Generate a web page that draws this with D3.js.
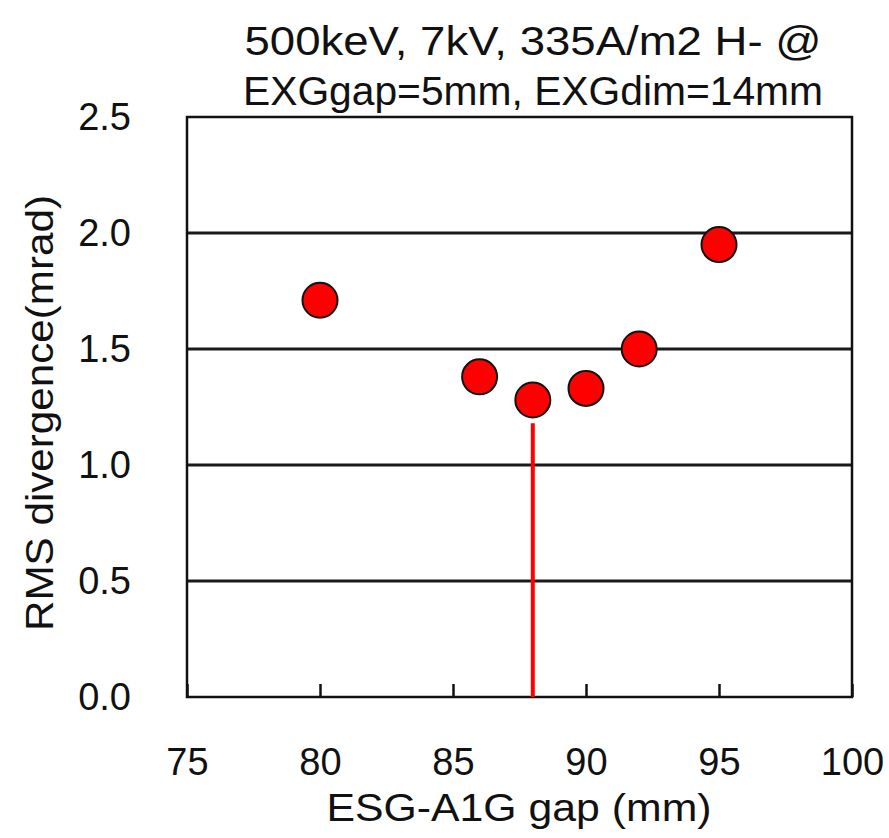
<!DOCTYPE html>
<html><head><meta charset="utf-8">
<script src="https://cdn.jsdelivr.net/npm/d3@7"></script>
<style>body{margin:0;background:#fff}svg{display:block}text{font-family:"Liberation Sans",Arial,sans-serif;fill:#111}</style>
</head><body>
<script>
const titleLines = ["500keV, 7kV, 335A/m2 H- @", "EXGgap=5mm, EXGdim=14mm"];
const xLabel = "ESG-A1G gap (mm)";
const yLabel = "RMS divergence(mrad)";
const gapValues = [80, 86, 88, 90, 92, 95];
const divergenceValues = [1.71, 1.38, 1.28, 1.33, 1.50, 1.95];
const xTicks = [75, 80, 85, 90, 95, 100];
const yTicks = [0.0, 0.5, 1.0, 1.5, 2.0, 2.5];
const markerLine = {x: 88, y0: 0, y1: 1.18};

const W = 889, H = 838;
const m = {left: 187, right: 852, top: 117, bottom: 697};
const svg = d3.select("body").append("svg").attr("width", W).attr("height", H);

const x = d3.scaleLinear().domain([75, 100]).range([m.left, m.right]);
const y = d3.scaleLinear().domain([0, 2.5]).range([m.bottom, m.top]);

// gridlines
svg.append("g").selectAll("line").data(yTicks.filter(v => v > 0 && v < 2.5)).join("line")
  .attr("x1", m.left).attr("x2", m.right).attr("y1", d => y(d)).attr("y2", d => y(d))
  .attr("stroke", "#1a1a1a").attr("stroke-width", 2.8);

// x axis ticks (inward)
const xAxis = d3.axisBottom(x).tickValues(xTicks).tickSizeInner(-13).tickSizeOuter(0).tickFormat(d => d).tickPadding(51);
const gx = svg.append("g").attr("transform", `translate(0,${m.bottom})`).call(xAxis);
gx.select(".domain").remove();
gx.selectAll(".tick line").attr("stroke", "#111").attr("stroke-width", 2.5);
gx.selectAll(".tick text").attr("font-size", 38).attr("font-family", "Liberation Sans, Arial, sans-serif").attr("fill", "#111").attr("dy", "0.71em");

// y axis labels
const yAxis = d3.axisLeft(y).tickValues(yTicks).tickSize(0).tickFormat(d3.format(".1f")).tickPadding(56);
const gy = svg.append("g").attr("transform", `translate(${m.left},0)`).call(yAxis);
gy.select(".domain").remove();
gy.selectAll(".tick text").attr("font-size", 38).attr("font-family", "Liberation Sans, Arial, sans-serif").attr("fill", "#111");

// frame
svg.append("rect").attr("x", m.left).attr("y", m.top).attr("width", m.right - m.left).attr("height", m.bottom - m.top)
  .attr("fill", "none").attr("stroke", "#111").attr("stroke-width", 2.5);

// red vertical line
svg.append("line").attr("x1", x(markerLine.x)).attr("x2", x(markerLine.x))
  .attr("y1", y(markerLine.y0)).attr("y2", y(markerLine.y1))
  .attr("stroke", "#ff0000").attr("stroke-width", 4);

// points
svg.append("g").selectAll("circle").data(gapValues.map((g, i) => [g, divergenceValues[i]])).join("circle")
  .attr("cx", d => x(d[0])).attr("cy", d => y(d[1])).attr("r", 17.5)
  .attr("fill", "#ff0000").attr("stroke", "#111").attr("stroke-width", 2);

// title
svg.append("text").attr("x", 533).attr("y", 55).attr("text-anchor", "middle").attr("font-size", 40)
  .attr("textLength", 577).attr("lengthAdjust", "spacingAndGlyphs").text(titleLines[0]);
svg.append("text").attr("x", 533).attr("y", 105).attr("text-anchor", "middle").attr("font-size", 40)
  .attr("textLength", 580).attr("lengthAdjust", "spacingAndGlyphs").text(titleLines[1]);

// axis labels
svg.append("text").attr("x", 519).attr("y", 821).attr("text-anchor", "middle").attr("font-size", 38)
  .attr("textLength", 385).attr("lengthAdjust", "spacingAndGlyphs").text(xLabel);
svg.append("text").attr("transform", "translate(53,413) rotate(-90)").attr("text-anchor", "middle").attr("font-size", 38)
  .attr("textLength", 436).attr("lengthAdjust", "spacingAndGlyphs").text(yLabel);
</script>
</body></html>
